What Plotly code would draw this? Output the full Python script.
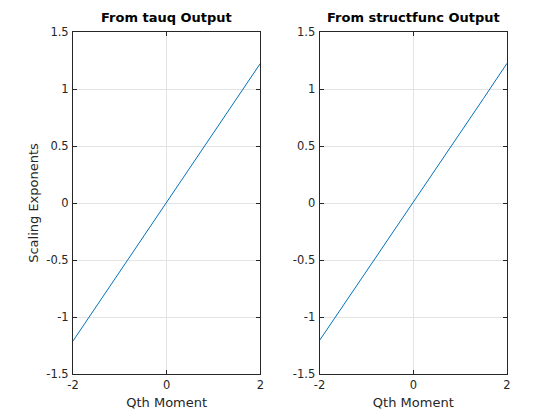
import plotly.graph_objects as go

q_tauq = [-2, -1.5, -1, -0.5, 0, 0.5, 1, 1.5, 2]
tau_tauq = [-1.21, -0.905, -0.604, -0.30, 0.0, 0.305, 0.61, 0.915, 1.225]
q_sf = [-2, -1.5, -1, -0.5, 0, 0.5, 1, 1.5, 2]
tau_sf = [-1.205, -0.902, -0.60, -0.298, 0.0, 0.306, 0.612, 0.918, 1.225]

titles = ["From tauq Output", "From structfunc Output"]
xticks = [-2, 0, 2]
xticklabels = ["-2", "0", "2"]
yticks = [-1.5, -1, -0.5, 0, 0.5, 1, 1.5]
yticklabels = ["-1.5", "-1", "-0.5", "0", "0.5", "1", "1.5"]

W, H = 560, 420
OFF = 8  # page body margin
L, R, T, B = 72.8 - OFF, 53.2 + OFF, 31.5 - OFF, 46.2 + OFF
d1 = [0, (260.2 - 72.8) / (506.8 - 72.8)]
d2 = [(319.4 - 72.8) / (506.8 - 72.8), 1]

fig = go.Figure()
fig.add_trace(go.Scatter(x=q_tauq, y=tau_tauq, mode="lines", line=dict(color="#0072BD", width=1),
                         xaxis="x", yaxis="y", showlegend=False))
fig.add_trace(go.Scatter(x=q_sf, y=tau_sf, mode="lines", line=dict(color="#0072BD", width=1),
                         xaxis="x2", yaxis="y2", showlegend=False))

font = dict(family="DejaVu Sans", size=11.5, color="#262626")
lblfont = dict(family="DejaVu Sans", size=13, color="#262626")
axcommon = dict(showline=True, linecolor="#262626", linewidth=1, mirror="ticks", ticks="inside",
                ticklen=4, tickcolor="#262626", showgrid=True, gridcolor="#e3e3e3", gridwidth=1,
                zeroline=False, tickfont=font)

fig.update_layout(
    width=W, height=H, margin=dict(l=L, r=R, t=T, b=B),
    paper_bgcolor="white", plot_bgcolor="white",
    xaxis=dict(domain=d1, range=[-2, 2], tickvals=xticks, ticktext=xticklabels, anchor="y",
               title=dict(text="Qth Moment", font=lblfont, standoff=7), **axcommon),
    yaxis=dict(domain=[0, 1], range=[-1.5, 1.5], tickvals=yticks, ticktext=yticklabels, anchor="x",
               title=dict(text="Scaling Exponents", font=lblfont, standoff=4), ticklabelstandoff=1, **axcommon),
    xaxis2=dict(domain=d2, range=[-2, 2], tickvals=xticks, ticktext=xticklabels, anchor="y2",
                title=dict(text="Qth Moment", font=lblfont, standoff=7), **axcommon),
    yaxis2=dict(domain=[0, 1], range=[-1.5, 1.5], tickvals=yticks, ticktext=yticklabels, anchor="x2",
                ticklabelstandoff=1, **axcommon),
    annotations=[
        dict(text="<b>" + titles[0] + "</b>", x=(d1[0] + d1[1]) / 2, y=1, xref="paper", yref="paper",
             xanchor="center", yanchor="bottom", yshift=5, showarrow=False,
             font=dict(family="DejaVu Sans", size=13, color="black")),
        dict(text="<b>" + titles[1] + "</b>", x=(d2[0] + d2[1]) / 2, y=1, xref="paper", yref="paper",
             xanchor="center", yanchor="bottom", yshift=5, showarrow=False,
             font=dict(family="DejaVu Sans", size=13, color="black")),
    ],
)

fig.write_html("out.html")
